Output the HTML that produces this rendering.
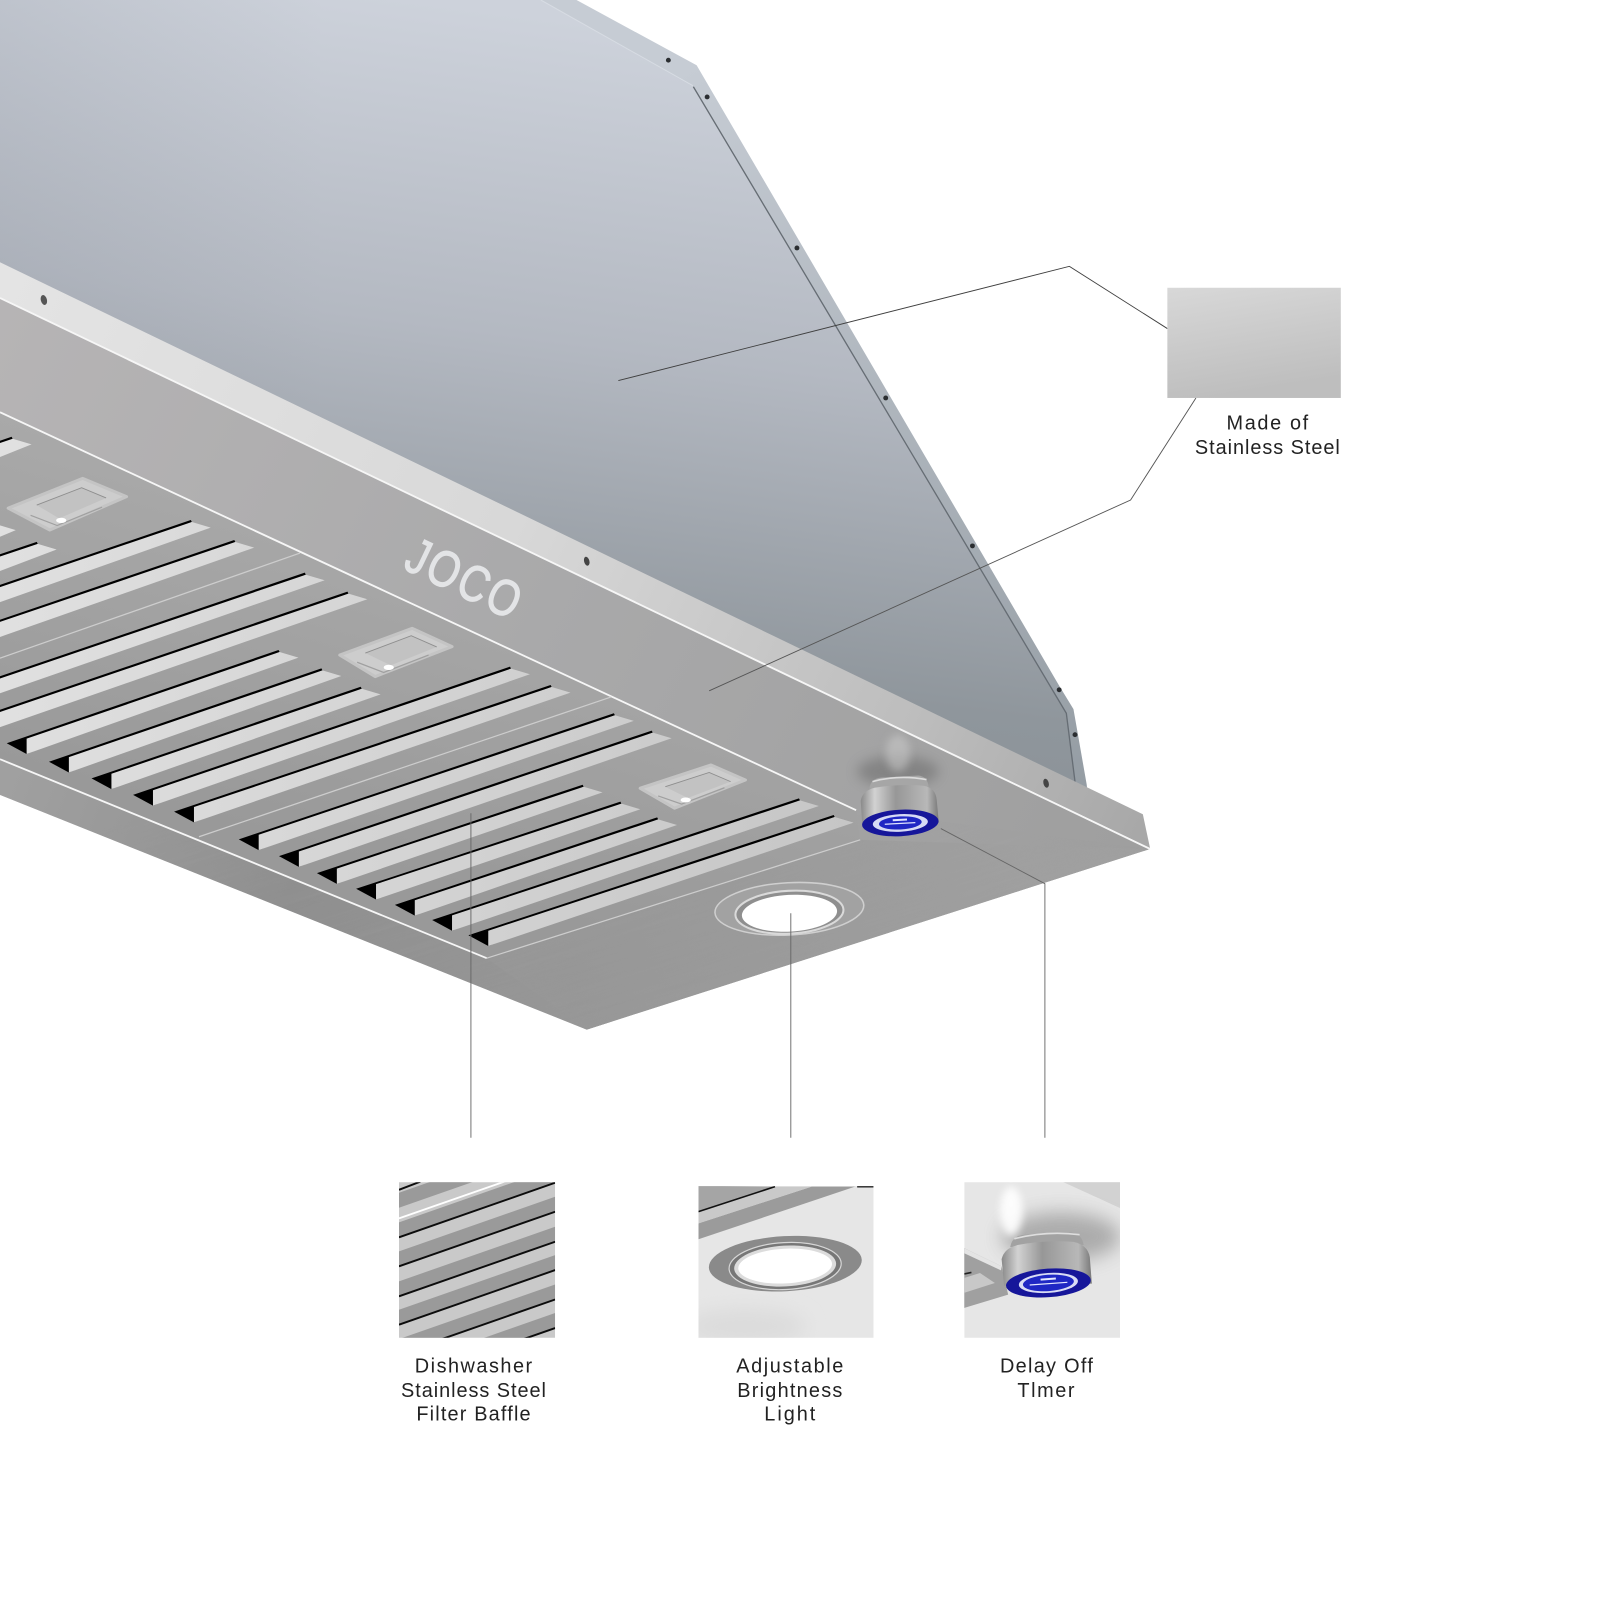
<!DOCTYPE html>
<html><head><meta charset="utf-8"><title>Range hood insert features</title>
<style>html,body{margin:0;padding:0;background:#fff}svg{display:block}text{font-family:"Liberation Sans",sans-serif;fill:#222;font-size:19.5px;text-anchor:middle}</style>
</head><body>
<svg width="1600" height="1600" viewBox="0 0 1568 1568" xmlns="http://www.w3.org/2000/svg">
<defs>
<linearGradient id="hood" gradientUnits="userSpaceOnUse" x1="400" y1="0" x2="300" y2="770"><stop offset="0" stop-color="#cdd2db"/><stop offset=".4" stop-color="#b4b9c2"/><stop offset=".8" stop-color="#8f969c"/><stop offset="1" stop-color="#899096"/></linearGradient>
<linearGradient id="leftshade" gradientUnits="userSpaceOnUse" x1="0" y1="0" x2="320" y2="0"><stop offset="0" stop-color="#6f7580" stop-opacity=".12"/><stop offset="1" stop-color="#6f7580" stop-opacity="0"/></linearGradient>
<linearGradient id="flange" gradientUnits="userSpaceOnUse" x1="680" y1="60" x2="1060" y2="770"><stop offset="0" stop-color="#c6ccd4"/><stop offset="1" stop-color="#959da4"/></linearGradient>
<linearGradient id="rim" gradientUnits="userSpaceOnUse" x1="0" y1="270" x2="1120" y2="810"><stop offset="0" stop-color="#e4e4e4"/><stop offset=".45" stop-color="#d8d8d8"/><stop offset=".8" stop-color="#bdbdbd"/><stop offset="1" stop-color="#a8a8a8"/></linearGradient>
<linearGradient id="front" gradientUnits="userSpaceOnUse" x1="0" y1="300" x2="1100" y2="830"><stop offset="0" stop-color="#b6b4b5"/><stop offset=".5" stop-color="#a9a9aa"/><stop offset="1" stop-color="#9f9f9f"/></linearGradient>
<linearGradient id="recess" gradientUnits="userSpaceOnUse" x1="300" y1="450" x2="200" y2="800"><stop offset="0" stop-color="#ababab"/><stop offset="1" stop-color="#999"/></linearGradient>
<linearGradient id="low" gradientUnits="userSpaceOnUse" x1="0" y1="780" x2="560" y2="990"><stop offset="0" stop-color="#a0a0a0"/><stop offset=".5" stop-color="#8f8f8f"/><stop offset="1" stop-color="#979797"/></linearGradient>
<linearGradient id="plate" gradientUnits="userSpaceOnUse" x1="580" y1="1000" x2="1000" y2="830"><stop offset="0" stop-color="#979797"/><stop offset="1" stop-color="#a0a0a0"/></linearGradient>
<linearGradient id="slat" gradientUnits="userSpaceOnUse" x1="0" y1="0" x2="840" y2="0"><stop offset="0" stop-color="#e0e0e0"/><stop offset="1" stop-color="#c6c6c6"/></linearGradient>
<linearGradient id="swatch" x1="0" y1="0" x2=".25" y2="1"><stop offset="0" stop-color="#d8d8d8"/><stop offset="1" stop-color="#bebebe"/></linearGradient>
<linearGradient id="body" x1="0" y1="0" x2="1" y2="0"><stop offset="0" stop-color="#8a8a8a"/><stop offset=".18" stop-color="#d2d2d2"/><stop offset=".45" stop-color="#979797"/><stop offset=".85" stop-color="#b8b8b8"/><stop offset="1" stop-color="#777"/></linearGradient>
<filter id="b4" x="-50%" y="-50%" width="200%" height="200%"><feGaussianBlur stdDeviation="4"/></filter>
<filter id="b6" x="-50%" y="-80%" width="200%" height="260%"><feGaussianBlur stdDeviation="6"/></filter>
<filter id="b8" x="-50%" y="-80%" width="200%" height="260%"><feGaussianBlur stdDeviation="9"/></filter>
<filter id="brush" x="0" y="0" width="100%" height="100%"><feTurbulence type="fractalNoise" baseFrequency="0.004 0.22" numOctaves="2" seed="4"/><feColorMatrix type="matrix" values="0 0 0 0 .35  0 0 0 0 .35  0 0 0 0 .35  1.6 0 0 0 -.62"/></filter>
<clipPath id="c1"><rect x="391" y="1158.6" width="153" height="152.4"/></clipPath>
<clipPath id="c2"><rect x="684.5" y="1162.4" width="171.5" height="148.6"/></clipPath>
<clipPath id="c3"><rect x="945" y="1158.6" width="152.6" height="152.4"/></clipPath>
<clipPath id="pl"><polygon points="0,744 477,939 843,823 839,794 1127,832 575,1009 0,779"/></clipPath>
</defs>

<!-- hood body -->
<polygon points="0,0 565,0 682.7,64 1038,672 1052,695 1065,769 1066,780 0,270" fill="url(#flange)"/>
<polygon points="0,0 530,0 679.5,85 1045,699 1053.5,770 0,262" fill="url(#hood)"/>
<polygon points="0,0 320,0 320,420 0,262" fill="url(#leftshade)"/>
<polyline points="530,0 679,84" fill="none" stroke="#d7dce3" stroke-width="1"/>
<polyline points="679.5,85 1045,699 1053.5,766" fill="none" stroke="#666d74" stroke-width="1.3"/>
<g fill="#2b2e31">
<circle cx="655" cy="59" r="2.4"/><circle cx="693" cy="95" r="2.4"/><circle cx="781" cy="243" r="2.4"/><circle cx="868" cy="390" r="2.4"/><circle cx="953" cy="535" r="2.4"/><circle cx="1038" cy="676" r="2.4"/><circle cx="1053.5" cy="720" r="2.4"/>
</g>

<!-- underside -->
<polygon points="0,292 1127,832 575,1009 0,779" fill="url(#front)"/>
<polygon points="0,744 477,939 600,1001 575,1009 0,779" fill="url(#low)"/>
<polygon points="477,939 843,823 1127,832 575,1009" fill="url(#plate)"/>
<g clip-path="url(#pl)" opacity=".3"><rect x="-200" y="700" width="1500" height="620" filter="url(#brush)" transform="rotate(-17 500 900)"/></g>
<polygon points="0,404 839,794 843,823 477,939 0,744" fill="url(#recess)"/>

<!-- rim -->
<polygon points="0,257 1120,798 1127,831 0,292" fill="url(#rim)"/>
<ellipse cx="43" cy="294" rx="3" ry="5" fill="#555" transform="rotate(-15 43 294)"/>
<ellipse cx="575" cy="550" rx="2.6" ry="4.5" fill="#444" transform="rotate(-15 575 550)"/>
<ellipse cx="1025" cy="767.6" rx="2.6" ry="4.5" fill="#444" transform="rotate(-15 1025 767)"/>

<g fill="none" stroke="#f6f6f6">
<line x1="0" y1="292" x2="1127" y2="832" stroke-width="1.8"/>
<line x1="0" y1="404" x2="839" y2="794" stroke-width="1.8"/>
<line x1="0" y1="744" x2="477" y2="939" stroke-width="1.8"/>
</g>
<g fill="none" stroke="#cdcdcd" stroke-width="1.2">
<line x1="294" y1="542" x2="0" y2="645"/>
<line x1="599" y1="683" x2="195" y2="820"/>
<line x1="477" y1="939" x2="843" y2="823"/>
</g>

<text x="0" y="18" style="font-size:50px;fill:#e3e4e6;stroke:#e3e4e6;stroke-width:1.2px" transform="translate(455 566) rotate(25.6) scale(.8 1)" textLength="148">JOCO</text>

<!-- slat shadows -->
<g fill="#000">
<polygon points="234,822.6 601.6,699 602.6,701 253.5,833.1"/>
<polygon points="273.4,839 638.7,716 639.7,718 292.9,849.5"/>
<polygon points="310.6,855.7 571,769 572,771 330.1,866.2"/>
<polygon points="349,871 608,785.6 609,787.6 368.5,881.5"/>
<polygon points="387,886.8 644,801 645,803 406.5,897.3"/>
<polygon points="423.5,901.6 783,782.4 784,784.4 443,912.1"/>
<polygon points="459,916.6 817,798.7 818,800.7 478.5,927.1"/>
<polygon points="-76,688.6 298.7,561.2 299.7,563.2 -56.5,699.1"/>
<polygon points="-35,707.5 340.5,579.8 341.5,581.8 -15.5,718"/>
<polygon points="6.6,728.4 273,637 274,639 26.1,738.9"/>
<polygon points="48,746.5 315,655 316,657 67.5,757"/>
<polygon points="89.7,762.8 353.5,673 354.5,675 109.2,773.3"/>
<polygon points="130.4,779 499.8,653.3 500.8,655.3 149.9,789.5"/>
<polygon points="170.6,795.4 539.6,671.3 540.6,673.3 190.1,805.9"/>
<polygon points="-40,445.5 11.4,428 12.4,430 -20.5,456"/>
<polygon points="-40,524.2 -4,512 -3,514 -20.5,534.7"/>
<polygon points="-40,556.8 36,531 37,533 -20.5,567.3"/>
<polygon points="-40,586.8 187,509.6 188,511.6 -20.5,597.3"/>
<polygon points="-40,620.9 229.6,529.2 230.6,531.2 -20.5,631.4"/>
</g>
<!-- slats -->
<g fill="url(#slat)">
<polygon points="253.5,818.1 602.6,701 621.1,706.5 253.5,833.1"/>
<polygon points="292.9,834.5 639.7,718 658.2,723.5 292.9,849.5"/>
<polygon points="330.1,851.2 572,771 590.5,776.5 330.1,866.2"/>
<polygon points="368.5,866.5 609,787.6 627.5,793.1 368.5,881.5"/>
<polygon points="406.5,882.3 645,803 663.5,808.5 406.5,897.3"/>
<polygon points="443,897.1 784,784.4 802.5,789.9 443,912.1"/>
<polygon points="478.5,912.1 818,800.7 836.5,806.2 478.5,927.1"/>
<polygon points="-56.5,684.1 299.7,563.2 318.2,568.7 -56.5,699.1"/>
<polygon points="-15.5,703 341.5,581.8 360,587.3 -15.5,718"/>
<polygon points="26.1,723.9 274,639 292.5,644.5 26.1,738.9"/>
<polygon points="67.5,742 316,657 334.5,662.5 67.5,757"/>
<polygon points="109.2,758.3 354.5,675 373,680.5 109.2,773.3"/>
<polygon points="149.9,774.5 500.8,655.3 519.3,660.8 149.9,789.5"/>
<polygon points="190.1,790.9 540.6,673.3 559.1,678.8 190.1,805.9"/>
<polygon points="-20.5,441 12.4,430 30.9,435.5 -20.5,456"/>
<polygon points="-20.5,519.7 -3,514 15.5,519.5 -20.5,534.7"/>
<polygon points="-20.5,552.3 37,533 55.5,538.5 -20.5,567.3"/>
<polygon points="-20.5,582.3 188,511.6 206.5,517.1 -20.5,597.3"/>
<polygon points="-20.5,616.4 230.6,531.2 249.1,536.7 -20.5,631.4"/>
</g>

<!-- grease filters / lamps -->
<g>
<polygon points="8,498 81,468.8 124,486.7 48.8,519.4" fill="#cdcdcd" stroke="#c4c4c4" stroke-width="3" stroke-linejoin="round"/>
<polygon points="36,495 80,478 104,488 58,508" fill="#c2c2c2"/>
<polyline points="36,495 80,478 104,488" fill="none" stroke="#8e8e8e" stroke-width=".9"/>
<polyline points="30,505 56,515 100,497" fill="none" stroke="#a0a0a0" stroke-width="1.2"/>
<ellipse cx="60" cy="510" rx="5" ry="2.6" fill="#fff"/>
<polygon points="333,642 404,615.8 443,633.7 367.7,663" fill="#cdcdcd" stroke="#c4c4c4" stroke-width="3" stroke-linejoin="round"/>
<polygon points="358,640 403,623 428,634 383,652" fill="#c2c2c2"/>
<polyline points="358,640 403,623 428,634" fill="none" stroke="#8e8e8e" stroke-width=".9"/>
<polyline points="350,649 376,659 420,642" fill="none" stroke="#a0a0a0" stroke-width="1.2"/>
<ellipse cx="381" cy="654" rx="5" ry="2.6" fill="#fff"/>
<polygon points="627.4,772.5 696.8,749.7 730.5,764.4 661,792" fill="#cdcdcd" stroke="#c4c4c4" stroke-width="3" stroke-linejoin="round"/>
<polygon points="652,771 695,757 716,766 674,782" fill="#c2c2c2"/>
<polyline points="652,771 695,757 716,766" fill="none" stroke="#8e8e8e" stroke-width=".9"/>
<polyline points="645,780 668,788 710,772" fill="none" stroke="#a0a0a0" stroke-width="1.2"/>
<ellipse cx="672" cy="784" rx="5" ry="2.4" fill="#fff"/>
</g>

<!-- main light -->
<g transform="rotate(-3 773 891)">
<ellipse cx="773.6" cy="890.7" rx="73" ry="25.6" fill="#a2a2a2" stroke="#cfcfcf" stroke-width="1.5"/>
<ellipse cx="773.5" cy="894" rx="53" ry="21" fill="#8f8f8f" stroke="#dadada" stroke-width="2"/>
<ellipse cx="773.5" cy="895" rx="46.7" ry="18" fill="#fff"/>
</g>

<!-- main knob -->
<ellipse cx="880" cy="756" rx="40" ry="15" fill="#5f5f5f" opacity=".45" filter="url(#b6)"/>
<ellipse cx="880" cy="738" rx="12" ry="18" fill="#cfcfcf" opacity=".5" filter="url(#b4)"/>
<path d="M852,773 Q853,763 864,762 L900,760 Q909,761 910,771 Z" fill="#a6a6a6"/>
<path d="M855,766 Q880,759 908,764" fill="none" stroke="#dcdcdc" stroke-width="1.6"/>
<path d="M843.5,785 Q845,775 857,772 Q880,768 905,770 Q917,772 918,784 L920,806 L845,808 Z" fill="url(#body)"/>
<g transform="rotate(-3 882 806)">
<ellipse cx="882.3" cy="806.5" rx="37.5" ry="13" fill="#16169a"/>
<ellipse cx="882.3" cy="806.5" rx="27" ry="8.6" fill="#d6daf5"/>
<ellipse cx="882.3" cy="806.5" rx="21" ry="6.4" fill="#1f27c4"/>
<line x1="867" y1="807" x2="897" y2="807" stroke="#dfe3ff" stroke-width="1.2"/>
<line x1="875" y1="803.5" x2="889" y2="803.5" stroke="#dfe3ff" stroke-width="2"/>
</g>

<!-- leader lines -->
<g fill="none" stroke="#3f3f3f" stroke-width=".9">
<polyline points="606,373 1048,261 1144,322"/>
<polyline points="695,677 1108,490 1172,390" stroke="#555"/>
<polyline points="922,812 1024,866 1024,1115" stroke="#666"/>
<line x1="775" y1="895" x2="775" y2="1115" stroke="#666"/>
<line x1="461.5" y1="797" x2="461.5" y2="1115" stroke="#666"/>
</g>

<!-- swatch -->
<rect x="1144" y="282" width="170" height="108" fill="url(#swatch)"/>
<text x="1242" y="421" textLength="80">Made of</text>
<text x="1242" y="445" textLength="142">Stainless Steel</text>

<!-- thumb 1 -->
<g clip-path="url(#c1)">
<rect x="391" y="1150" width="153" height="165" fill="#c9c9c9"/>
<g fill="#9a9a9a">
<polygon points="391,1168.9 544,1115.4 544,1130.1 391,1183.6"/>
<polygon points="391,1197.9 544,1144.4 544,1159.1 391,1212.6"/>
<polygon points="391,1226.3 544,1172.8 544,1187.5 391,1241"/>
<polygon points="391,1255.7 544,1202.2 544,1216.9 391,1270.4"/>
<polygon points="391,1283.5 544,1230 544,1244.7 391,1298.2"/>
<polygon points="391,1312.3 544,1258.8 544,1273.5 391,1327"/>
<polygon points="391,1340.3 544,1286.8 544,1301.5 391,1355"/>
</g>
<g stroke="#0c0c0c" stroke-width="1.9">
<line x1="391" y1="1212.6" x2="544" y2="1159.1"/>
<line x1="391" y1="1241" x2="544" y2="1187.5"/>
<line x1="391" y1="1270.4" x2="544" y2="1216.9"/>
<line x1="391" y1="1298.2" x2="544" y2="1244.7"/>
<line x1="391" y1="1327" x2="544" y2="1273.5"/>
<line x1="391" y1="1355" x2="544" y2="1301.5"/>
<line x1="391" y1="1166" x2="412" y2="1158"/>
</g>
<line x1="391" y1="1194" x2="500" y2="1156" stroke="#fff" stroke-width="1.8"/>
</g>

<!-- thumb 2 -->
<g clip-path="url(#c2)">
<rect x="684.5" y="1162" width="172" height="150" fill="#e6e6e6"/>
<polygon points="684.5,1198.9 795.4,1162.9 838,1162.9 684.5,1214.5" fill="#9b9b9b"/>
<polygon points="684.5,1187.4 759.5,1162.9 795.4,1162.9 684.5,1198.9" fill="#c9c9c9"/>
<polygon points="684.5,1162 759.5,1162.9 684.5,1187.4" fill="#a5a5a5"/>
<line x1="684.5" y1="1187.4" x2="759.5" y2="1162.9" stroke="#111" stroke-width="1.6"/>
<line x1="840" y1="1163" x2="856" y2="1163" stroke="#222" stroke-width="1.4"/>
<ellipse cx="730" cy="1300" rx="60" ry="18" fill="#dcdcdc" filter="url(#b8)"/>
<g transform="rotate(-3 770 1238)">
<ellipse cx="769.6" cy="1238.4" rx="75" ry="27" fill="#8a8a8a"/>
<ellipse cx="769.3" cy="1240.7" rx="55" ry="23" fill="#777" stroke="#d6d6d6" stroke-width="1.2"/>
<ellipse cx="769.3" cy="1240.7" rx="50" ry="20" fill="#dcdcdc"/>
<ellipse cx="769.3" cy="1240.7" rx="46" ry="17" fill="#fff"/>
</g>
</g>

<!-- thumb 3 -->
<g clip-path="url(#c3)">
<rect x="945" y="1158" width="153" height="154" fill="#e6e6e6"/>
<polygon points="1041,1158 1098,1158 1098,1184" fill="#d2d2d2"/>
<ellipse cx="1040" cy="1212" rx="58" ry="24" fill="#8d8d8d" opacity=".65" filter="url(#b8)"/>
<ellipse cx="991" cy="1187" rx="11" ry="24" fill="#fff" opacity=".9" filter="url(#b4)"/>
<polygon points="944.7,1223 981.6,1241 988,1268.7 944.7,1281.8" fill="#a0a0a0"/>
<polygon points="944.7,1223 981.6,1241 981,1245 944.7,1228" fill="#e4e4e4"/>
<polygon points="944.7,1252.4 960.4,1247.5 975,1257.3 944.7,1267" fill="#c8c8c8"/>
<line x1="945" y1="1248.5" x2="952" y2="1247" stroke="#222" stroke-width="1.6"/>
<path d="M990,1222 Q992,1211 1004,1210 L1050,1208 Q1060,1209 1062,1220 Z" fill="#a2a2a2"/>
<path d="M994,1214 Q1025,1206 1058,1210" fill="none" stroke="#dedede" stroke-width="1.6"/>
<path d="M981.6,1234 Q984,1223 998,1220 Q1025,1215 1052,1217 Q1066,1220 1068,1232 L1070,1258 L984,1260 Z" fill="url(#body)"/>
<g transform="rotate(-4 1027 1257)">
<ellipse cx="1027.4" cy="1257.3" rx="41.6" ry="14" fill="#16169a"/>
<ellipse cx="1027.4" cy="1257.3" rx="29" ry="9.8" fill="#d9dcf5"/>
<ellipse cx="1027.4" cy="1257.3" rx="25" ry="8" fill="#1f27c4"/>
<line x1="1009" y1="1258" x2="1046" y2="1258" stroke="#e4e7ff" stroke-width="1.2"/>
<line x1="1020" y1="1253.5" x2="1035" y2="1253.5" stroke="#e4e7ff" stroke-width="2"/>
</g>
</g>

<!-- labels -->
<text x="464" y="1345" textLength="115">Dishwasher</text>
<text x="464" y="1369" textLength="142">Stainless Steel</text>
<text x="464" y="1392" textLength="112">Filter Baffle</text>
<text x="774" y="1345" textLength="105">Adjustable</text>
<text x="774" y="1369" textLength="103">Brightness</text>
<text x="774" y="1392" textLength="50">Light</text>
<text x="1025.5" y="1345" textLength="91">Delay Off</text>
<text x="1025" y="1369" textLength="56">Tlmer</text>
</svg>
</body></html>
